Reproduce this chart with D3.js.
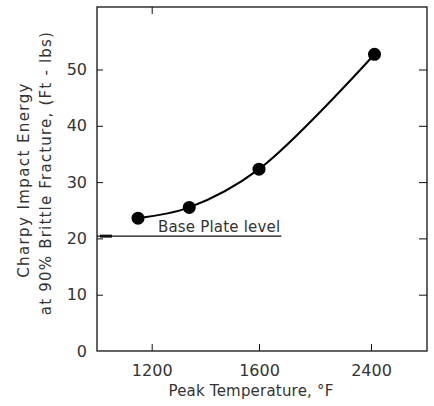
<!DOCTYPE html>
<meta charset="utf-8">
<style>
  body { margin: 0; background: #fff; }
  text { font-family: "DejaVu Sans", sans-serif; fill: #333; }
  .axis path, .axis line { stroke: #111; }
</style>
<svg class="chart" width="434" height="406"></svg>
<script src="https://d3js.org/d3.v7.min.js"></script>
<script>
  // peak temperature (F) vs charpy energy (ft-lbs)
  var temps = [1150, 1340, 1600, 2425];
  var energy = [23.6, 25.5, 32.3, 52.7];
  var xTicks = [1200, 1600, 2400];
  var yTicks = [0, 10, 20, 30, 40, 50];
  var baseLevel = 20.4;
  var baseEnd = 1760;

  var svg = d3.select(".chart");
  var mLeft = 97, mRight = 427, mTop = 7, mBottom = 351;

  // axis is not uniform in the original, so piecewise
  var x = d3.scaleLinear()
      .domain([1000, 1200, 1600, 2400, 2800])
      .range([mLeft, 151.7, 259, 371, mRight]);
  var y = d3.scaleLinear().domain([0, 61.1]).range([mBottom, mTop]);

  svg.append("rect")
      .attr("x", mLeft).attr("y", mTop)
      .attr("width", mRight - mLeft).attr("height", mBottom - mTop)
      .attr("fill", "none").attr("stroke", "#111").attr("stroke-width", 1.3);

  var xAxis = svg.append("g").attr("class", "axis")
      .attr("transform", "translate(0," + mBottom + ")")
      .call(d3.axisBottom(x).tickValues(xTicks).tickSize(-7).tickPadding(14)
          .tickSizeOuter(0).tickFormat(d3.format("d")));
  xAxis.select(".domain").remove();
  xAxis.selectAll("text").attr("font-size", 16).attr("fill", "#333");

  var topAxis = svg.append("g").attr("class", "axis")
      .attr("transform", "translate(0," + mTop + ")")
      .call(d3.axisTop(x).tickValues([1200]).tickSize(-7).tickFormat(""));
  topAxis.select(".domain").remove();

  var yAxis = svg.append("g").attr("class", "axis")
      .attr("transform", "translate(" + mLeft + ",0)")
      .call(d3.axisLeft(y).tickValues(yTicks).tickSize(0).tickPadding(10));
  yAxis.select(".domain").remove();
  yAxis.selectAll("text").attr("font-size", 16).attr("fill", "#333");
  yAxis.selectAll(".tick line")
      .attr("x2", function(d) { return d > 0 ? 6 : 0; });

  var rAxis = svg.append("g").attr("class", "axis")
      .attr("transform", "translate(" + mRight + ",0)")
      .call(d3.axisRight(y).tickValues(yTicks.slice(1)).tickSize(-8).tickFormat(""));
  rAxis.select(".domain").remove();

  // base plate level
  svg.append("line")
      .attr("x1", x(1000)).attr("x2", x(baseEnd))
      .attr("y1", y(baseLevel)).attr("y2", y(baseLevel))
      .attr("stroke", "#111").attr("stroke-width", 1.3);
  svg.append("line")
      .attr("x1", x(1000) + 3).attr("x2", x(1000) + 15)
      .attr("y1", y(baseLevel)).attr("y2", y(baseLevel))
      .attr("stroke", "#111").attr("stroke-width", 3);
  svg.append("text")
      .attr("x", x(baseEnd) - 1).attr("y", y(baseLevel) - 4)
      .attr("text-anchor", "end").attr("font-size", 15)
      .attr("letter-spacing", 0.2)
      .text("Base Plate level");

  var pts = temps.map(function(t, i) { return [t, energy[i]]; });

  svg.append("path")
      .datum(pts)
      .attr("fill", "none").attr("stroke", "#000").attr("stroke-width", 2)
      .attr("d", d3.line()
          .x(function(d) { return x(d[0]); })
          .y(function(d) { return y(d[1]); })
          .curve(d3.curveCatmullRom.alpha(0.5)));

  svg.selectAll("circle.pt")
      .data(pts)
      .enter().append("circle")
      .attr("class", "pt")
      .attr("cx", function(d) { return x(d[0]); })
      .attr("cy", function(d) { return y(d[1]); })
      .attr("r", 6.5)
      .attr("fill", "#000");

  svg.append("text")
      .attr("x", 251).attr("y", 396)
      .attr("text-anchor", "middle").attr("font-size", 15)
      .attr("letter-spacing", 0.2)
      .text("Peak Temperature, °F");

  var ylab = svg.append("g")
      .attr("transform", "translate(29,0) rotate(-90)");
  ylab.append("text")
      .attr("x", -180)
      .attr("text-anchor", "middle").attr("font-size", 15)
      .attr("letter-spacing", 1.4)
      .text("Charpy Impact Energy");
  ylab.append("text")
      .attr("x", -173).attr("y", 22)
      .attr("text-anchor", "middle").attr("font-size", 15)
      .attr("letter-spacing", 1.2)
      .text("at 90% Brittle Fracture, (Ft - lbs)");
</script>
